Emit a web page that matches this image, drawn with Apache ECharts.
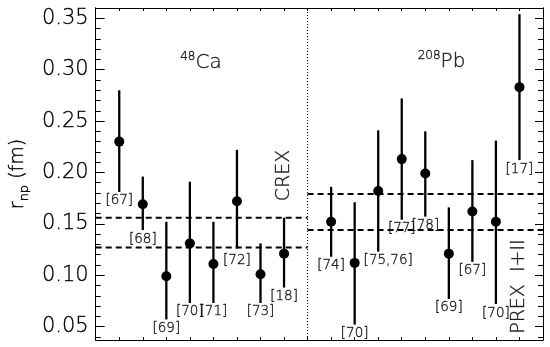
<!DOCTYPE html>
<html>
<head>
<meta charset="utf-8">
<script src="https://cdn.jsdelivr.net/npm/echarts@6/dist/echarts.min.js"></script>
<style>
html, body { margin: 0; padding: 0; background: #fff; }
#main { width: 550px; height: 347px; }
</style>
</head>
<body>
<div id="main"></div>
<script>
// 48Ca measurements
var caX = [1, 2, 3, 4, 5, 6, 7, 8];
var caVal = [0.230, 0.169, 0.099, 0.131, 0.111, 0.172, 0.101, 0.121];
var caHi = [0.280, 0.196, 0.152, 0.191, 0.152, 0.222, 0.131, 0.156];
var caLo = [0.181, 0.144, 0.057, 0.073, 0.073, 0.126, 0.073, 0.088];
var caRef = ['[67]', '[68]', '[69]', '[70]', '[71]', '[72]', '[73]', '[18]'];

// 208Pb measurements
var pbX = [10, 11, 12, 13, 14, 15, 16, 17, 18];
var pbVal = [0.152, 0.112, 0.182, 0.213, 0.199, 0.121, 0.162, 0.152, 0.283];
var pbHi = [0.186, 0.171, 0.241, 0.272, 0.240, 0.166, 0.212, 0.231, 0.354];
var pbLo = [0.118, 0.052, 0.123, 0.154, 0.157, 0.077, 0.113, 0.072, 0.212];
var pbRef = ['[74]', '[70]', '[75,76]', '[77]', '[78]', '[69]', '[67]', '[70]', '[17]'];

// dashed bands
var caBand = [0.156, 0.127];
var pbBand = [0.179, 0.144];
var divider = 9;

var yMajor = [0.05, 0.10, 0.15, 0.20, 0.25, 0.30, 0.35];
var yMinor = [0.04, 0.06, 0.07, 0.08, 0.09, 0.11, 0.12, 0.13, 0.14, 0.16, 0.17, 0.18, 0.19,
              0.21, 0.22, 0.23, 0.24, 0.26, 0.27, 0.28, 0.29, 0.31, 0.32, 0.33, 0.34];

var FONT = 'DejaVu Sans';
var FW = 200;

var myChart = echarts.init(document.getElementById('main'));

var xs = caX.concat(pbX);
var vals = caVal.concat(pbVal);
var his = caHi.concat(pbHi);
var los = caLo.concat(pbLo);
var refs = caRef.concat(pbRef);

var barData = [], pointData = [], refData = [];
for (var i = 0; i < xs.length; i++) {
    barData.push([xs[i], los[i], his[i]]);
    pointData.push([xs[i], vals[i]]);
    var item = {value: [xs[i], los[i], refs[i]]};
    if (refs[i] === '[75,76]') item.label = {offset: [10, 0]};
    if (refs[i] === '[72]') item.label = {offset: [0, 3]};
    refData.push(item);
}

function bandLine(v, x0, x1) {
    return {
        type: 'line',
        data: [[x0, v], [x1, v]],
        symbol: 'none',
        silent: true,
        lineStyle: {color: '#000', width: 2, type: [6, 4]},
        z: 1
    };
}

// thin font, slightly darkened with a hairline outline
var ink = {color: '#000', textBorderColor: '#000', textBorderWidth: 0.4};

function yAx(pos, ticks, len, labels) {
    return {
        type: 'value',
        position: pos,
        min: 0.037,
        max: 0.36,
        splitLine: {show: false},
        axisLine: {show: true, lineStyle: {color: '#000', width: 1}},
        axisTick: {show: true, inside: true, length: len, customValues: ticks,
                   lineStyle: {color: '#000', width: 1}},
        axisLabel: labels ? Object.assign({
            show: true, customValues: yMajor, margin: 7,
            fontFamily: FONT, fontWeight: FW, fontSize: 21,
            formatter: function (v) { return v.toFixed(2); }
        }, ink, {textBorderWidth: 0.3}) : {show: false}
    };
}

var axisY = yAx('left', yMajor, 9, true);
axisY.name = '{m|r}{s|np}{m| (fm)}';
axisY.nameLocation = 'middle';
axisY.nameRotate = 90;
axisY.nameGap = 64;
axisY.nameTextStyle = {
    color: '#000',
    rich: {
        m: Object.assign({fontFamily: FONT, fontWeight: FW, fontSize: 19, lineHeight: 26}, ink),
        s: Object.assign({fontFamily: FONT, fontWeight: FW, fontSize: 13, lineHeight: 13, verticalAlign: 'bottom'}, ink)
    }
};

function xAx(pos) {
    return {
        type: 'value',
        position: pos,
        min: 0,
        max: 19,
        interval: 1,
        splitLine: {show: false},
        axisLine: {show: true, lineStyle: {color: '#000', width: 1}},
        axisTick: {show: true, inside: true, length: 3, lineStyle: {color: '#000'}},
        axisLabel: {show: false}
    };
}

var richTitle = {
    sup: Object.assign({fontFamily: FONT, fontWeight: FW, fontSize: 12, lineHeight: 12, verticalAlign: 'top'}, ink),
    m: Object.assign({fontFamily: FONT, fontWeight: FW, fontSize: 20, lineHeight: 24}, ink)
};

var notes = [
    {value: [4.47, 0.3067], label: {formatter: '{sup|48}{m|Ca}', rich: richTitle}},
    {value: [14.69, 0.3076], label: {formatter: '{sup|208}{m|Pb}', rich: richTitle}},
    {value: [8, 0.197], label: {formatter: 'CREX', rotate: 90}},
    {value: [18, 0.089], label: {formatter: 'PREX  I+II', rotate: 90}}
];

var option = {
    animation: false,
    backgroundColor: '#fff',
    grid: {left: 94, right: 7, top: 8, bottom: 7},
    xAxis: [xAx('bottom'), xAx('top')],
    yAxis: [
        axisY,
        yAx('left', yMinor, 5, false),
        yAx('right', yMajor, 8, false),
        yAx('right', yMinor, 5, false)
    ],
    series: [
        bandLine(caBand[0], 0, divider),
        bandLine(caBand[1], 0, divider),
        bandLine(pbBand[0], divider, 19),
        bandLine(pbBand[1], divider, 19),
        {
            type: 'line',
            data: [[divider, 0.037], [divider, 0.36]],
            symbol: 'none',
            silent: true,
            lineStyle: {color: '#000', width: 1, type: [1, 2]}
        },
        {
            type: 'custom',
            data: barData,
            renderItem: function (params, api) {
                var p0 = api.coord([api.value(0), api.value(1)]);
                var p1 = api.coord([api.value(0), api.value(2)]);
                return {
                    type: 'line',
                    shape: {x1: p0[0], y1: p0[1], x2: p1[0], y2: p1[1]},
                    style: {stroke: '#000', lineWidth: 2.3}
                };
            },
            z: 3
        },
        {
            type: 'scatter',
            data: pointData,
            symbol: 'circle',
            symbolSize: 10,
            itemStyle: {color: '#000', opacity: 1},
            z: 4
        },
        {
            type: 'scatter',
            data: refData,
            symbolSize: 0,
            label: Object.assign({
                show: true, position: 'bottom', distance: 2,
                formatter: function (p) { return p.value[2]; },
                fontFamily: FONT, fontWeight: FW, fontSize: 13.5
            }, ink),
            z: 5
        },
        {
            type: 'scatter',
            data: notes,
            symbolSize: 0,
            label: Object.assign({
                show: true, position: 'inside',
                fontFamily: FONT, fontWeight: FW, fontSize: 19
            }, ink),
            z: 5
        }
    ]
};

myChart.setOption(option);
</script>
</body>
</html>
